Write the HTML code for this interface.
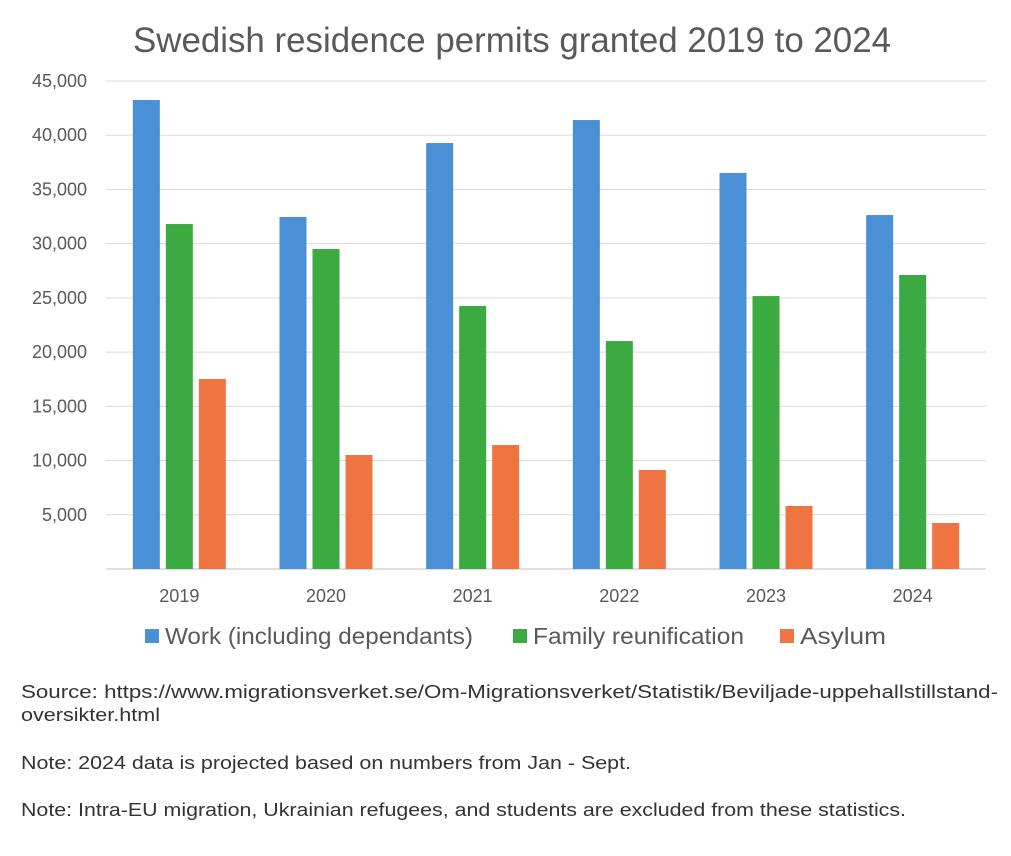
<!DOCTYPE html>
<html><head><meta charset="utf-8"><style>
body{margin:0;background:#fff;font-family:"Liberation Sans",sans-serif;}
svg text{font-family:"Liberation Sans",sans-serif;}
</style></head><body>
<div style="position:relative;width:1011px;height:856px;">
<svg id="chart" width="1011" height="856" style="position:absolute;left:0;top:0">
<text x="133" y="52" font-size="35" fill="#595959" textLength="758" lengthAdjust="spacingAndGlyphs">Swedish residence permits granted 2019 to 2024</text>
<g font-size="18" fill="#333">
<text x="21" y="698" textLength="977" lengthAdjust="spacingAndGlyphs">Source: https://www.migrationsverket.se/Om-Migrationsverket/Statistik/Beviljade-uppehallstillstand-</text>
<text x="21" y="721" textLength="139" lengthAdjust="spacingAndGlyphs">oversikter.html</text>
<text x="21" y="769" textLength="610" lengthAdjust="spacingAndGlyphs">Note: 2024 data is projected based on numbers from Jan - Sept.</text>
<text x="21" y="816" textLength="885" lengthAdjust="spacingAndGlyphs">Note: Intra-EU migration, Ukrainian refugees, and students are excluded from these statistics.</text>
</g>
</svg>
</div>
<script>
const categories=["2019","2020","2021","2022","2023","2024"];
const work=[43250,32460,39280,41400,36520,32640];
const family=[31810,29510,24250,21020,25170,27110];
const asylum=[17520,10510,11430,9130,5810,4240];
const seriesNames=["Work (including dependants)","Family reunification","Asylum"];
const yTicks=[5000,10000,15000,20000,25000,30000,35000,40000,45000];
const svg=document.getElementById('chart');
const NS='http://www.w3.org/2000/svg';
const x0=106,x1=986,y0=569,y1=81,yMax=45000;
const y=v=>y0-(v/yMax)*(y0-y1);
const groupW=(x1-x0)/categories.length;
const gx=i=>x0+groupW*(i+0.5);
function el(t,a){const e=document.createElementNS(NS,t);for(const k in a)e.setAttribute(k,a[k]);svg.appendChild(e);return e;}
yTicks.forEach(v=>{
 const l=el('line',{x1:x0,x2:x1,y1:y(v),y2:y(v),stroke:'#d9d9d9','stroke-width':1});
 
 
 const t=el('text',{x:87,y:y(v)+6,'text-anchor':'end','font-size':18,fill:'#595959'});
 t.textContent=v.toLocaleString('en-US');
 
 
});
const ax=el('line',{x1:x0,x2:x1,y1:y0,y2:y0,stroke:'#bfbfbf','stroke-width':1});


const colors=['#4a90d6','#3aaa41','#ef7441'];
const series=[work,family,asylum];
const bw=27,gap=6;
categories.forEach((c,i)=>{
 series.forEach((s,j)=>{
  const bx=gx(i)+(j-1)*(bw+gap)-bw/2;
  const r=el('rect',{x:bx,y:y(s[i]),width:bw,height:y0-y(s[i]),fill:colors[j]});
  
  
 });
 const t=el('text',{x:gx(i),y:602,'text-anchor':'middle','font-size':18,fill:'#595959'});
 t.textContent=c;
 
 
});
const lx=[145,513,780];
const lw=[308,211,86];
seriesNames.forEach((n,j)=>{
 const r=el('rect',{x:lx[j],y:629,width:14,height:14,fill:colors[j]});
 
 
 const t=el('text',{x:lx[j]+20,y:644,'font-size':23,fill:'#595959',textLength:lw[j],lengthAdjust:'spacingAndGlyphs'});
 t.textContent=n;
 
 
});
</script>
</body></html>
